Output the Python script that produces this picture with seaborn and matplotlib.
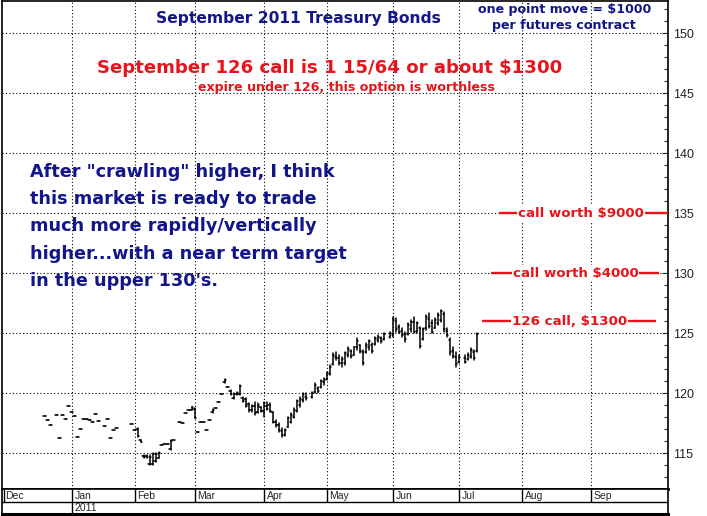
import numpy as np
import pandas as pd
import matplotlib
matplotlib.use("Agg")
import matplotlib.pyplot as plt
from matplotlib.ticker import MultipleLocator
import seaborn as sns

# ---------------- data ----------------
first_day = "2010-12-21"
last_day = "2011-07-11"
holidays = ["2010-12-24", "2011-01-17", "2011-02-21", "2011-04-22", "2011-05-30", "2011-07-04"]
axis_start = "2010-12-01"
axis_end = "2011-10-06"
month_starts = ["2010-12-01", "2011-01-03", "2011-02-01", "2011-03-01", "2011-04-01",
                "2011-05-02", "2011-06-01", "2011-07-01", "2011-08-01", "2011-09-01"]
month_labels = ["Dec", "Jan", "Feb", "Mar", "Apr", "May", "Jun", "Jul", "Aug", "Sep"]
year_label = "2011"
y_major_ticks = [115, 120, 125, 130, 135, 140, 145, 150]

nan = np.nan
# thin trading Dec/Jan: single settlement price per day
settle_dec_jan = [118.08, 117.75, 117.33, 118.13, 116.23, 118.14, 117.81, 118.94,
                  118.38, 118.08, 116.33, 117.00, 117.83, 117.86, 117.71, 117.60, 118.27, 117.68,
                  117.27, 117.85, 116.25, 116.89, 117.07, nan, nan, nan, nan, 117.39]

high_feb_jul = [
    116.92, 117.06, 116.10, 114.85, 114.80, 114.83, 114.97, 115.00, 115.10, 115.67, 115.75, 115.75, 116.08, 116.08, 117.61, 117.53, 118.30, 118.55, 118.83,
    118.72, 116.77, 117.56, 117.56, 116.92, 117.75, 118.64, 118.72, 119.25, 119.92, 121.17, 120.53, 120.25, 120.03, 120.11, 120.67, 119.69, 119.58, 119.17, 119.00, 119.27, 119.17, 118.86,
    119.27, 119.27, 119.17, 118.44, 117.75, 117.47, 117.06, 117.00, 118.03, 118.33, 118.75, 119.42, 119.69, 120.00, 120.00, 120.11, 120.83, 120.53, 121.08, 121.25,
    121.78, 122.33, 123.33, 123.44, 123.17, 123.03, 123.44, 123.86, 123.58, 123.86, 124.56, 124.00, 123.58, 124.14, 124.42, 124.14, 124.69, 124.83, 124.69, 124.97, 125.11,
    126.36, 126.22, 125.67, 125.39, 125.11, 125.81, 126.08, 126.36, 125.94, 125.53, 125.39, 126.50, 126.64, 126.08, 126.22, 126.64, 126.92, 126.78, 125.39, 124.56, 123.86, 123.44,
    123.17, 123.17, 123.31, 123.72, 123.58, 124.97]
low_feb_jul = [
    116.92, 116.36, 115.90, 114.60, 114.60, 114.00, 114.00, 114.25, 114.56, 115.67, 115.75, 115.75, 115.25, 116.08, 117.61, 117.53, 118.30, 118.55, 118.58,
    117.89, 116.77, 117.56, 117.56, 116.92, 117.75, 118.36, 118.72, 119.25, 119.92, 120.83, 120.53, 119.83, 119.47, 119.83, 119.83, 119.27, 118.86, 118.44, 118.44, 118.17, 118.33, 118.44,
    118.03, 118.58, 118.44, 117.47, 117.19, 116.78, 116.36, 116.40, 117.19, 117.50, 117.92, 118.44, 118.86, 119.27, 119.42, 119.58, 120.00, 120.00, 120.42, 120.67,
    121.08, 121.50, 122.33, 122.75, 122.33, 122.19, 122.33, 123.03, 122.89, 123.17, 123.58, 123.31, 122.33, 123.31, 123.58, 123.31, 124.00, 124.28, 124.14, 124.42, 124.56,
    124.69, 125.11, 124.97, 124.69, 124.28, 124.83, 125.11, 124.97, 124.97, 123.72, 124.42, 125.25, 125.39, 124.97, 125.39, 125.67, 125.94, 125.11, 124.69, 123.17, 122.89, 122.19,
    122.47, 122.47, 122.75, 122.89, 122.75, 123.44]
open_feb_jul = [
    116.92, 117.00, 116.10, 114.75, 114.75, 114.10, 114.10, 114.30, 114.60, 115.67, 115.75, 115.75, 115.30, 116.08, 117.61, 117.53, 118.30, 118.55, 118.60,
    118.70, 116.77, 117.56, 117.56, 116.92, 117.75, 118.40, 118.72, 119.25, 119.92, 120.90, 120.53, 120.20, 119.60, 119.90, 119.90, 119.60, 119.50, 119.10, 118.60, 118.90, 118.40, 118.80,
    118.50, 118.90, 119.00, 118.40, 117.60, 117.30, 116.80, 116.50, 117.20, 117.60, 118.00, 118.50, 119.00, 119.40, 119.70, 119.70, 120.10, 120.40, 120.50, 120.90,
    121.20, 121.60, 122.40, 123.00, 122.90, 122.50, 122.50, 123.20, 123.50, 123.20, 123.80, 124.00, 123.40, 123.40, 123.80, 124.00, 124.10, 124.40, 124.60, 124.50, 124.70,
    124.80, 126.00, 125.50, 125.20, 124.90, 124.90, 125.30, 125.90, 125.20, 125.40, 124.50, 125.40, 126.20, 125.80, 125.40, 125.80, 126.10, 126.60, 125.20, 124.40, 123.50, 123.00,
    122.60, 122.90, 122.80, 123.00, 123.40, 123.50]
close_feb_jul = [
    116.92, 116.40, 115.90, 114.70, 114.70, 114.70, 114.90, 114.90, 115.00, 115.67, 115.75, 115.75, 116.00, 116.08, 117.61, 117.53, 118.30, 118.55, 118.80,
    117.90, 116.77, 117.56, 117.56, 116.92, 117.75, 118.60, 118.72, 119.25, 119.92, 121.10, 120.53, 119.90, 119.90, 120.00, 120.60, 119.30, 118.90, 118.60, 118.90, 118.30, 119.00, 118.50,
    119.20, 118.70, 118.50, 117.60, 117.30, 116.90, 116.50, 116.90, 117.90, 118.20, 118.60, 119.30, 119.50, 119.90, 119.60, 120.00, 120.70, 120.20, 121.00, 121.10,
    121.70, 122.20, 123.20, 122.90, 122.50, 122.80, 123.30, 123.70, 123.10, 123.80, 124.30, 123.50, 122.50, 124.00, 124.30, 123.50, 124.60, 124.70, 124.30, 124.90, 125.00,
    126.20, 125.30, 125.10, 124.80, 124.50, 125.70, 125.90, 125.10, 125.80, 123.90, 125.30, 126.30, 125.60, 125.10, 126.10, 126.50, 126.80, 125.30, 124.80, 123.40, 123.10, 122.40,
    123.00, 122.60, 123.20, 123.60, 122.90, 124.90]

title_text = "September 2011 Treasury Bonds"
info_lines = ["one point move = $1000", "per futures contract"]
headline = "September 126 call is 1 15/64 or about $1300"
subline = "expire under 126, this option is worthless"
comment_lines = ['After "crawling" higher, I think',
                 "this market is ready to trade",
                 "much more rapidly/vertically",
                 "higher...with a near term target",
                 "in the upper 130's."]
call_levels = [135, 130, 126]
call_labels = ["call worth $9000", "call worth $4000", "126 call, $1300"]

NAVY = "#12168a"
RED = "#e8141c"
BOLDFONT = ["DejaVu Sans"]

# ---------------- build table ----------------
high = settle_dec_jan + high_feb_jul
low = settle_dec_jan + low_feb_jul
opn = settle_dec_jan + open_feb_jul
cls = settle_dec_jan + close_feb_jul

dates = pd.bdate_range(first_day, last_day, freq="C", holidays=holidays)
n = min(len(dates), len(high))
dates = dates[:n]
day_x = np.busday_count(np.datetime64(axis_start), dates.values.astype("datetime64[D]"))
bars = pd.DataFrame(dict(x=day_x, high=high[:n], low=low[:n], open=opn[:n], close=cls[:n])).dropna()

w = 0.45
rows = []
for i, r in enumerate(bars.itertuples()):
    rows += [(3 * i, r.x, r.low), (3 * i, r.x, r.high),
             (3 * i + 1, r.x - w, r.open), (3 * i + 1, r.x, r.open),
             (3 * i + 2, r.x, r.close), (3 * i + 2, r.x + w, r.close)]
seg = pd.DataFrame(rows, columns=["seg", "x", "price"])

month_x = np.busday_count(np.datetime64(axis_start),
                          np.array(month_starts, dtype="datetime64[D]"))
x_end = np.busday_count(np.datetime64(axis_start), np.datetime64(axis_end))

# ---------------- style ----------------
sns.set_theme(style="white")
plt.rcParams["font.family"] = ["Liberation Sans", "DejaVu Sans"]

W, H = 707, 516
fig = plt.figure(figsize=(W / 100, H / 100), dpi=100)
fig.patch.set_facecolor("white")

def fx(px):
    return px / W

def fy(py):
    return 1 - py / H

ax = fig.add_axes([fx(2), fy(489), fx(668) - fx(2), fy(1) - fy(489)])
sns.lineplot(data=seg, x="x", y="price", units="seg", estimator=None, sort=False,
             color="black", linewidth=1.1, ax=ax, legend=False, zorder=3)
ax.set_xlim(-0.2, x_end + 0.6)
ax.set_ylim(112.0, 152.67)
ax.set_xlabel("")
ax.set_ylabel("")

ax.set_xticks(month_x[1:])
ax.set_yticks(y_major_ticks)
ax.yaxis.set_minor_locator(MultipleLocator(1))
ax.yaxis.tick_right()
ax.tick_params(axis="x", length=0, labelbottom=False)
ax.tick_params(axis="y", which="major", direction="in", length=4, width=0.8,
               labelsize=9, pad=4, labelcolor="#222222", right=True, left=False)
ax.tick_params(axis="y", which="minor", direction="in", length=3, width=0.8,
               right=True, left=False)
ax.grid(True, which="major", color="black", linewidth=0.8, linestyle=(0, (1, 2.1)))
for s in ax.spines.values():
    s.set_color("black")
    s.set_linewidth(1.2)
ax.spines["bottom"].set_linewidth(2)

# call level annotations
line_spans = [(165.4, x_end + 0.6), (162.7, 218.6), (159.7, 217.6)]
label_x = [192.6, 190.8, 188.8]
for lvl, lab, (x0, x1), tx in zip(call_levels, call_labels, line_spans, label_x):
    ax.hlines(lvl, x0, x1, color=RED, linewidth=1.7, zorder=4)
    ax.text(tx, lvl, lab, color=RED, fontsize=9.6, fontweight="bold", family=BOLDFONT,
            ha="center", va="center", zorder=5,
            bbox=dict(facecolor="white", edgecolor="none", pad=0.8))

# ---------------- month / year band ----------------
band = fig.add_axes([fx(2), fy(514), fx(668) - fx(2), fy(489) - fy(514)])
band.set_xlim(ax.get_xlim())
band.set_ylim(0, 1)
band.set_xticks([])
band.set_yticks([])
split = 0.5
for s in band.spines.values():
    s.set_color("black")
    s.set_linewidth(1.2)
band.spines["bottom"].set_linewidth(2.2)
band.axhline(split, color="black", linewidth=1)
for mx, ml in zip(month_x, month_labels):
    band.vlines(max(mx, 0.3), split, 1, color="black", linewidth=1)
    band.text(mx + 0.9, (1 + split) / 2 - 0.02, ml, fontsize=7.5, ha="left", va="center")
band.vlines(month_x[1], 0, split, color="black", linewidth=1)
band.text(month_x[1] + 0.9, split / 2 - 0.02, year_label, fontsize=7.5, ha="left", va="center")

# ---------------- texts ----------------
fig.text(fx(298), fy(19), title_text, color=NAVY, fontsize=11.2, fontweight="bold",
         family=BOLDFONT, ha="center", va="center")
fig.text(fx(565), fy(9), info_lines[0], color=NAVY, fontsize=9.1, fontweight="bold",
         family=BOLDFONT, ha="center", va="center")
fig.text(fx(564), fy(25), info_lines[1], color=NAVY, fontsize=9.1, fontweight="bold",
         family=BOLDFONT, ha="center", va="center")
fig.text(fx(330), fy(68), headline, color=RED, fontsize=13.1, fontweight="bold",
         family=BOLDFONT, ha="center", va="center")
fig.text(fx(346), fy(87), subline, color=RED, fontsize=9.1, fontweight="bold",
         family=BOLDFONT, ha="center", va="center")
for i, line in enumerate(comment_lines):
    fig.text(fx(30), fy(172 + 27.2 * i), line, color=NAVY, fontsize=12.7,
             fontweight="bold", family=BOLDFONT, ha="left", va="center")

fig.savefig("out.png", dpi=100, facecolor="white")
